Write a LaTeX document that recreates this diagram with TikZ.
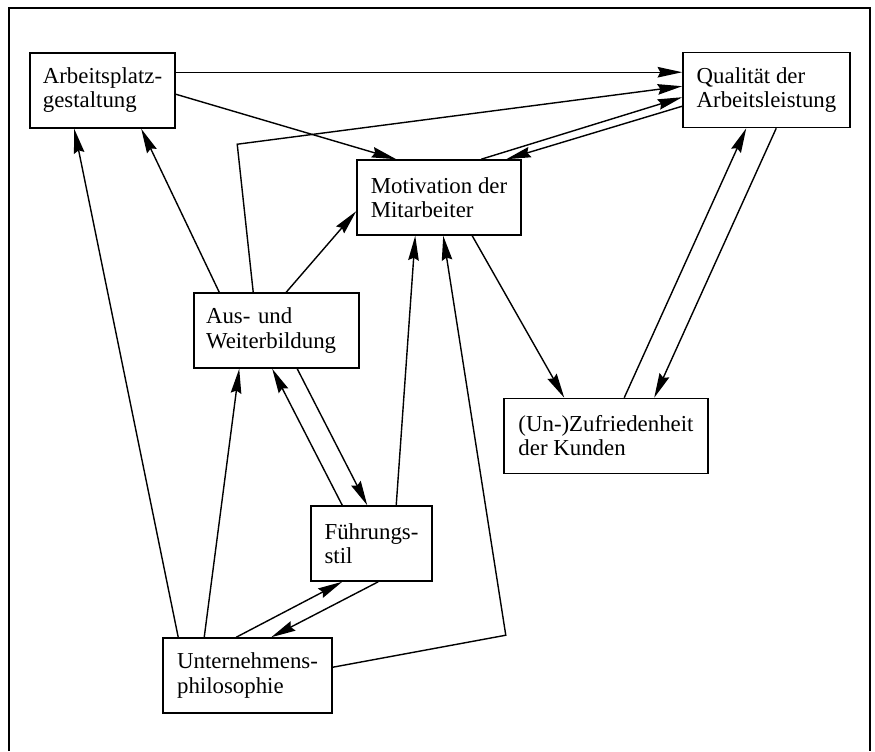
\documentclass[tikz,border=0pt]{standalone}
\usepackage{fontspec}
\setmainfont{Liberation Serif}
\usepackage{tikz}
\usetikzlibrary{arrows.meta,calc}

\begin{document}
\begin{tikzpicture}[
  x=0.02cm, y=-0.02cm,
  font=\fontsize{13pt}{13.7pt}\selectfont,
  box/.style={draw,line width=0.9pt,align=left,inner xsep=0.24cm,
              minimum height=1.5cm},
  arr/.style={-{Stealth[length=14pt,width=6pt,inset=1.5pt]},line width=0.8pt},
  ln/.style={line width=0.9pt}
]
\useasboundingbox (0,0) rectangle (875,751);
% frame
\draw[ln] (9,751) -- (9,8) -- (870,8) -- (870,751);

% boxes
\node[box,minimum width=2.9cm] (arb) at (102.5,90.5) {Arbeitsplatz-\\gestaltung};
\node[box,minimum width=3.34cm] (qual) at (766.5,90) {Qualität der\\Arbeitsleistung};
\node[box,minimum width=3.28cm] (motiv) at (439,197.5) {Motivation der\\Mitarbeiter};
\node[box,text width=2.82cm] (aus) at (276.5,330.5) {Aus- und\\Weiterbildung};
\node[box,minimum width=4.08cm] (zuf) at (606,436) {(Un-)Zufriedenheit\\der Kunden};
\node[box,minimum width=2.42cm] (fuehr) at (371.5,543.5) {Führungs-\\stil};
\node[box,minimum width=3.38cm] (unt) at (247.5,675.5) {Unternehmens-\\philosophie};

% into Qualität
\draw[arr] ($(arb.north east)+(0,20)$) -- ($(qual.north west)+(0,20.5)$);
\draw[arr] ($(aus.north west)+(60,0)$) -- ++(-16,-148) -- ($(qual.north west)+(0,34.5)$);
\draw[arr] ($(motiv.north west)+(125,0)$) -- ($(qual.north west)+(0,45.5)$);
\draw[arr] ($(qual.north west)+(0,54.5)$) -- ($(motiv.north west)+(150,0)$);
\draw[arr] ($(zuf.north west)+(121,0)$) -- ($(qual.south west)+(64,0)$);
\draw[arr] ($(qual.south west)+(94,0)$) -- ($(zuf.north west)+(151,0)$);

% into Motivation
\draw[arr] ($(arb.north east)+(0,42)$) -- ($(motiv.north west)+(40,0)$);
\draw[arr] ($(aus.north west)+(93,0)$) -- ($(motiv.north west)+(0,52)$);
\draw[arr] ($(fuehr.north west)+(86,0)$) -- ($(motiv.south west)+(59,0)$);
\draw[arr] ($(unt.north east)+(0,30)$) -- ++(173,-32) -- ($(motiv.south west)+(87,0)$);
\draw[arr] ($(motiv.south west)+(116,0)$) -- ($(zuf.north west)+(61,0)$);

% into Arbeitsplatz
\draw[arr] ($(aus.north west)+(26,0)$) -- ($(arb.south west)+(112,0)$);
\draw[arr] ($(unt.north west)+(16,0)$) -- ($(arb.south west)+(45,0)$);

% lower part
\draw[arr] ($(unt.north west)+(42,0)$) -- ($(aus.south west)+(46,0)$);
\draw[arr] ($(fuehr.north west)+(32,0)$) -- ($(aus.south west)+(79,0)$);
\draw[arr] ($(aus.south west)+(104,0)$) -- ($(fuehr.north west)+(57,0)$);
\draw[arr] ($(unt.north west)+(74,0)$) -- ($(fuehr.south west)+(32,0)$);
\draw[arr] ($(fuehr.south west)+(68,0)$) -- ($(unt.north west)+(109,0)$);
\end{tikzpicture}
\end{document}
